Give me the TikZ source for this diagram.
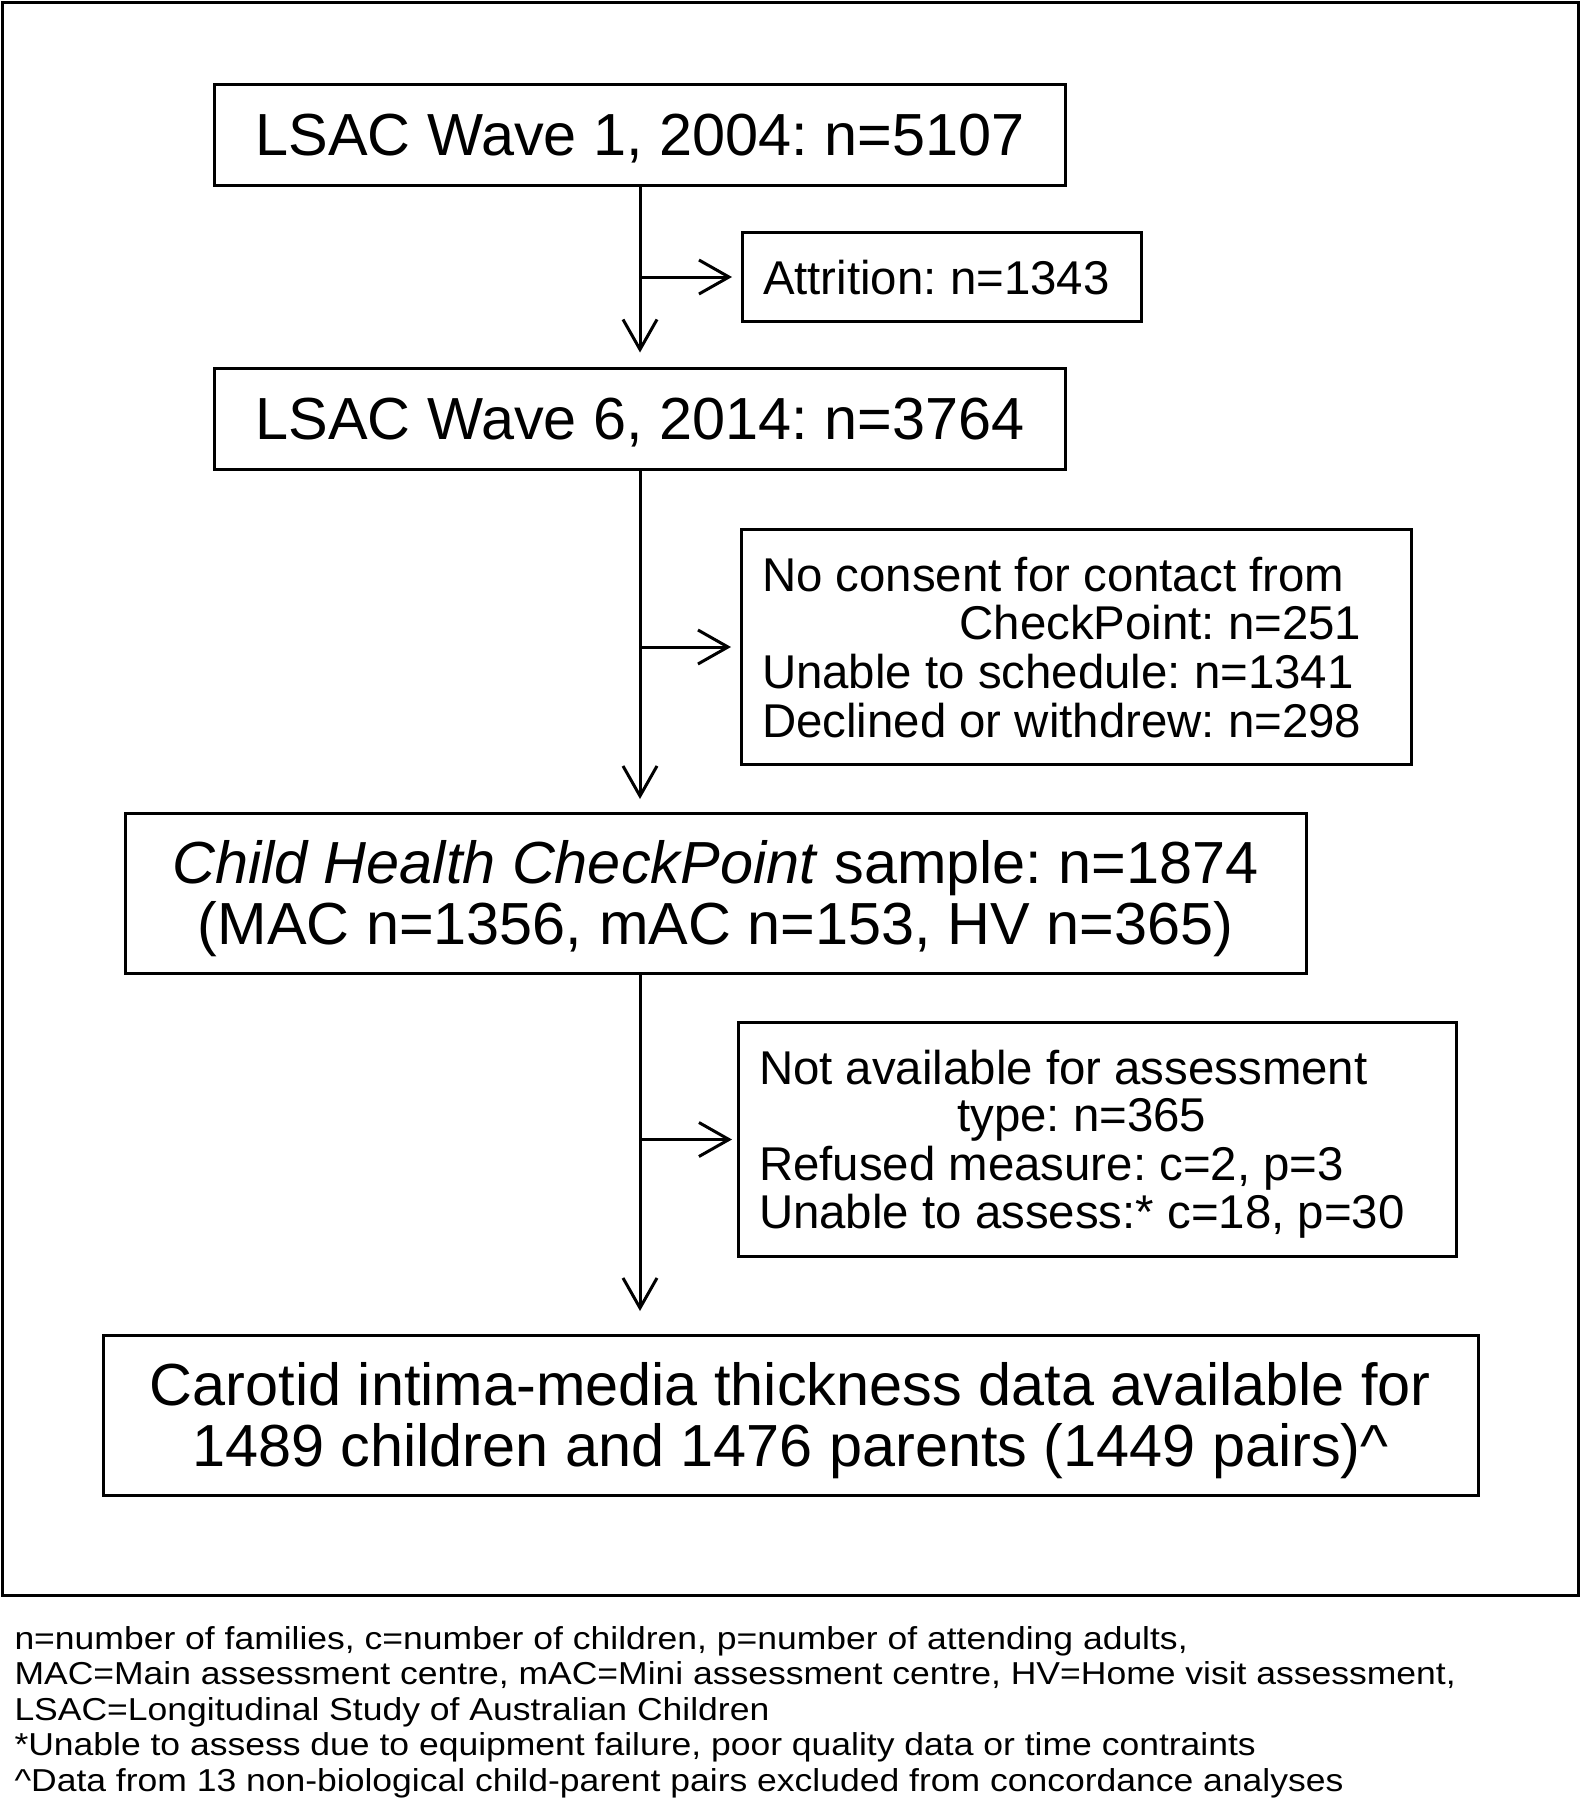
\documentclass[tikz,border=0pt]{standalone}
\usepackage{fontspec}
\setmainfont{Liberation Sans}
\newfontfamily\notefont[FakeStretch=1.12]{Liberation Sans}
\usetikzlibrary{arrows.meta}
\frenchspacing

\newcommand{\droptext}[1]{\raisebox{-0.15em}[\height][\depth]{#1}}
\newcommand{\boxlines}[1]{\droptext{\begin{tabular}{@{}c@{}}#1\end{tabular}}}
\newcommand{\sidelines}[2]{\droptext{\begin{tabular}{@{}l@{}}#2\end{tabular}}\kern#1}
\newcommand{\rightrow}[1]{\multicolumn{1}{@{}r@{}}{#1}}
\newcommand{\midrow}[1]{\multicolumn{1}{@{}c@{}}{#1}}

\begin{document}
\begin{tikzpicture}[
    ->, >={Straight Barb[length=15pt, width=17pt]}, line width=1.5pt, node distance=51pt,
    mainbox/.style={draw, rectangle, inner sep=0pt, outer sep=0pt, font=\fontsize{29.7}{30}\selectfont},
    sidebox/.style={draw, rectangle, inner xsep=10.5pt, inner ysep=10pt, outer sep=0pt, font=\fontsize{23.7}{23.7}\selectfont}
]
\useasboundingbox (0,0) rectangle (791pt,-900pt);
\draw[-] (1pt,-1pt) rectangle (789pt,-797.5pt);
% Define shapes
\node (wave1) [mainbox, minimum width=425.3pt, minimum height=50.5pt] at (320pt,-67.25pt) {\boxlines{LSAC Wave 1, 2004: n=5107}};
\node (attrition) [sidebox, right of=wave1, anchor=west, yshift=-71.25pt] {\sidelines{5.3pt}{Attrition: n=1343}};
\node (wave6) [mainbox, below of=wave1, yshift=-91.25pt, minimum width=425.3pt, minimum height=50.5pt] {\boxlines{LSAC Wave 6, 2014: n=3764}};
\node (consent) [sidebox, right of=wave6, anchor=west, xshift=-0.5pt, yshift=-114pt] {\sidelines{14.3pt}{No consent for contact from\\ \rightrow{CheckPoint: n=251}\\ Unable to schedule: n=1341\\ Declined or withdrew: n=298}};
\node (sample) [mainbox, below of=wave6, xshift=37.75pt, yshift=-186pt, minimum width=590.5pt, minimum height=80pt] {\boxlines{\textit{Child Health CheckPoint} sample: n=1874\\ (MAC n=1356, mAC n=153, HV n=365)}};
\node (assess) [sidebox, right of=sample, anchor=west, xshift=-39.75pt, yshift=-123.25pt] {\sidelines{15.2pt}{Not available for assessment\\ \midrow{type: n=365}\\ Refused measure: c=2, p=3\\ Unable to assess:* c=18, p=30}};
\node (cimt) [mainbox, below of=sample, xshift=37.5pt, yshift=-210pt, minimum width=687.5pt, minimum height=80pt] {\boxlines{Carotid intima-media thickness data available for\\ 1489 children and 1476 parents (1449 pairs)\textasciicircum}};
% Footnotes (base = last line)
\node (notes) [anchor=base west, align=left, inner sep=0pt, font=\notefont\fontsize{15.85}{17.75}\selectfont] at (6.5pt,-895.5pt) {n=number of families, c=number of children, p=number of attending adults,\\ MAC=Main assessment centre, mAC=Mini assessment centre, HV=Home visit assessment,\\ LSAC=Longitudinal Study of Australian Children\\ *Unable to assess due to equipment failure, poor quality data or time contraints\\ \textasciicircum Data from 13 non-biological child-parent pairs excluded from concordance analyses};
% Draw arrows
\draw[shorten >=8pt] (wave1) -- (wave6);
\draw[shorten >=7pt] (wave6) -- (wave1 |- sample.north);
\draw[shorten >=12pt] (sample.south -| wave1) -- (wave1 |- cimt.north);
\draw[shorten >=5pt] (wave1 |- attrition.west) -- (attrition.west);
\draw[shorten >=5pt] (wave1 |- consent.west) -- (consent.west);
\draw[shorten >=3pt] (wave1 |- assess.west) -- (assess.west);
\end{tikzpicture}
\end{document}
